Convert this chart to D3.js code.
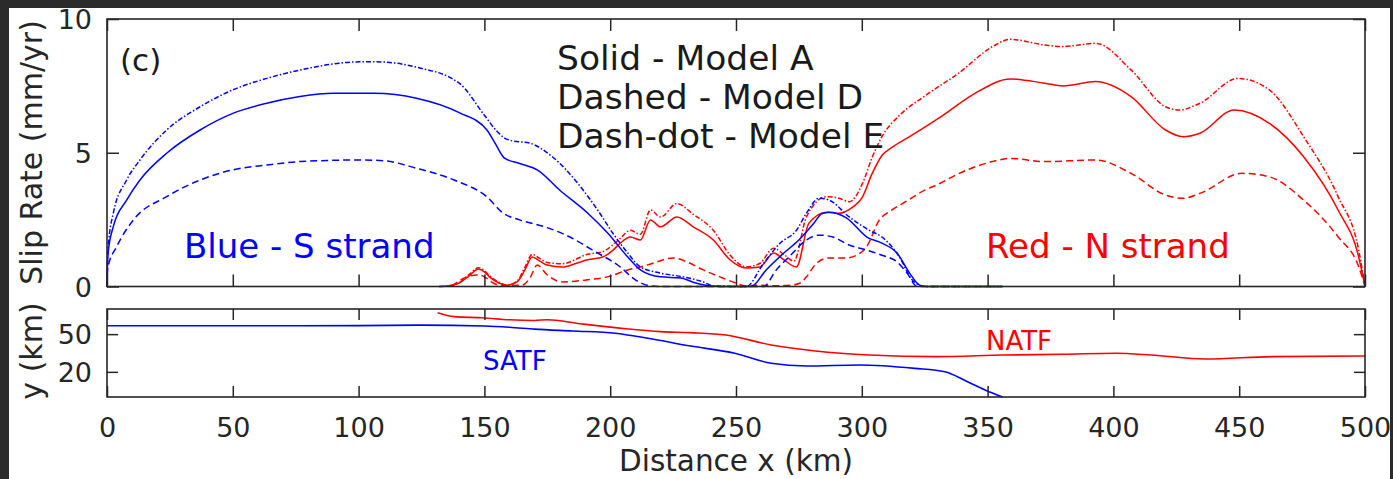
<!DOCTYPE html>
<html>
<head>
<meta charset="utf-8">
<script src="https://cdn.jsdelivr.net/npm/d3@7"></script>
<style>
  html, body { margin: 0; padding: 0; background: #2b2b2b; }
  svg { display: block; }
  text { font-family: "DejaVu Sans", sans-serif; }
</style>
</head>
<body>
<svg id="fig" width="1393" height="479"></svg>
<script>
// ---- data: slip rate (mm/yr) along the strike distance x (km) ----
// S strand (blue)
const sStrandModelA = [[0,0],[0.2,0.8],[0.5,1.3],[2.5,2.24],[7.8,3.23],[13.1,3.98],[23.7,4.98],[37,5.85],[50,6.47],[63.5,6.85],[76.7,7.1],[90,7.22],[106,7.22],[123,7.04],[140,6.5],[151,5.85],[154,5.4],[158,4.8],[164,4.6],[171,4.36],[180,3.6],[191,2.75],[199,2.0],[207,1.1],[212,0.62],[220,0.36],[228,0.32],[234,0.13],[240,0.02],[248,0],[256,0],[262,0.62],[269,1.25],[275,1.74],[281,2.37],[284,2.72],[287,2.78],[294,2.56],[302,1.85],[308,1.62],[314,1.25],[319,0.5],[323,0.05],[326,0],[356,0]];
const sStrandModelD = [[0,0],[0.3,0.7],[3.85,1.49],[10.5,2.49],[23.7,3.36],[37,3.98],[50,4.36],[63.5,4.54],[76.7,4.67],[100,4.73],[110,4.7],[123,4.42],[138,3.98],[151,3.35],[157.5,2.74],[164,2.49],[175,2.2],[184,1.85],[193,1.36],[204,0.73],[210,0.25],[216,0.02],[220,0],[261,0],[266,0.62],[271,1.1],[278,1.74],[283,1.92],[288.5,1.85],[295,1.55],[302,1.36],[308,1.17],[314,0.92],[318,0.5],[322,0],[356,0]];
const sStrandModelE = [[0,0],[0.2,0.9],[0.5,1.5],[2.5,2.74],[7.8,3.98],[13.1,4.73],[23.7,5.85],[37,6.72],[50,7.35],[63.5,7.78],[76.7,8.09],[90,8.32],[100.6,8.4],[107,8.4],[123,8.2],[140,7.6],[150,6.4],[155,5.8],[158,5.55],[161,5.45],[168,5.36],[177,4.85],[187,3.87],[195,2.86],[201,2.0],[207,1.25],[212,0.73],[220,0.5],[229,0.36],[237,0.17],[241,0.02],[254,0],[261,0.87],[267.5,1.62],[274,2.1],[278,2.74],[283,3.3],[287,3.23],[295,2.6],[303,2.1],[308,1.85],[315,1.1],[320,0.25],[325,0],[356,0]];
// N strand (red)
const nStrandModelA = [[132,0],[137,0.05],[140,0.13],[144,0.4],[147.6,0.65],[150,0.55],[152,0.36],[156,0.12],[159,0.05],[163,0.17],[166,0.6],[169,1.1],[172,0.95],[175,0.8],[181,0.73],[186,0.85],[191,1.0],[197,1.1],[201,1.35],[204,1.62],[208,1.85],[212,1.74],[216,2.49],[220,2.23],[226.5,2.6],[233,2.23],[241,1.74],[247.6,1.0],[254,0.69],[259.5,0.73],[265,1.25],[269,1.0],[274,0.73],[279,2.37],[286,2.78],[291,2.74],[296.5,2.98],[300,3.3],[304,4.2],[308,4.9],[312,5.2],[319,5.6],[331.5,6.35],[345,7.22],[359,7.76],[372.7,7.6],[380,7.5],[393,7.66],[407,7.1],[420.7,5.85],[427.6,5.6],[434.4,5.73],[448,6.6],[462,6.1],[475.6,4.85],[489.3,2.86],[497.5,1.1],[500,0]];
const nStrandModelD = [[137,0],[143,0.36],[148,0.43],[151,0.3],[153.5,0.13],[157,0.03],[165,0.05],[168,0.3],[171,0.8],[175,0.43],[181,0.17],[191,0.25],[199,0.36],[207,0.62],[212,0.73],[217,0.87],[225,1.07],[230.5,0.92],[237,0.62],[243.6,0.36],[250,0.13],[254,0.02],[258,0.05],[266,0.03],[272,0.05],[275.5,0.13],[278,0.36],[282,0.87],[287,1.07],[294,1.07],[298,1.17],[302,1.5],[307,2.49],[311,2.8],[318,3.2],[325,3.6],[331,3.85],[338,4.2],[352,4.67],[359,4.79],[372.7,4.67],[393,4.73],[407,4.23],[420.7,3.42],[427.6,3.3],[434.4,3.48],[451,4.23],[462,4.1],[475.6,3.23],[489.3,1.86],[497.5,0.74],[500,0]];
const nStrandModelE = [[132,0],[137,0.05],[140,0.15],[144,0.45],[147.6,0.7],[150,0.6],[152,0.4],[156,0.15],[159,0.05],[163,0.2],[166,0.7],[169,1.2],[172,1.05],[175,0.9],[181,0.85],[186,1.0],[190,1.18],[197,1.3],[201,1.55],[204,1.8],[208,2.1],[212,1.95],[216,2.86],[220,2.6],[226.5,3.1],[233,2.7],[241,2.1],[247.6,1.18],[254,0.73],[259.5,0.87],[265,1.43],[269,1.2],[273,0.95],[278,2.6],[286,3.36],[291,3.3],[295,3.17],[300.5,3.9],[304,4.8],[308,5.6],[315,6.4],[324.7,7.1],[338.4,7.97],[352,8.97],[359,9.24],[372.7,9.03],[379.6,8.97],[393,9.09],[407,8.1],[420.7,6.72],[426,6.6],[434.4,6.85],[449.5,7.78],[462,7.35],[475.6,5.6],[489.3,3.36],[497.5,1.36],[500,0]];

// ---- data: fault traces, y (km) against x (km) ----
const satfTrace = [[0,56.7],[50,56.7],[100,56.8],[125,57.2],[150,56.5],[160,55.5],[170,54],[185,52.5],[202,50.7],[215,46.7],[232,40.5],[249.5,34.8],[264,26.8],[278,24.7],[299,25.5],[321,22.8],[333,20.1],[342,12.2],[349,5.6],[356,0]];
const natfTrace = [[131.4,67],[138,63.9],[149,63],[160,61.4],[170,60.9],[175,61.5],[188,58.3],[206,54.3],[220,52],[232,51.2],[246,49.3],[264,41.4],[281.6,36.6],[303,33.4],[329.5,32.1],[356.5,33.4],[380,34],[401,34.8],[415,33.4],[436.6,30.2],[463,32.1],[499,32.6],[500,32.6]];

// ---- tick values and labels ----
const distanceTicks = [0, 50, 100, 150, 200, 250, 300, 350, 400, 450, 500];
const slipTicks = [0, 5, 10];
const traceTicks = [20, 50];
const legendLines = ["Solid - Model A", "Dashed - Model D", "Dash-dot - Model E"];

// ---- drawing ----
const svg = d3.select("#fig");
const AXIS = "#262626";
const BLUE = "#0000ff";
const RED = "#ff0000";

svg.append("rect").attr("x", 9).attr("y", 8).attr("width", 1381).attr("height", 471).attr("fill", "#ffffff");

const x = d3.scaleLinear().domain([0, 500]).range([107, 1365]);
const ySlip = d3.scaleLinear().domain([0, 10]).range([286.5, 19]);
const yTrace = d3.scaleLinear().domain([0, 70]).range([397, 309]);

const lineSlip = d3.line().x(d => x(d[0])).y(d => ySlip(d[1])).curve(d3.curveMonotoneX);
const lineTrace = d3.line().x(d => x(d[0])).y(d => yTrace(d[1])).curve(d3.curveMonotoneX);

const styles = { solid: null, dashed: "7,4", dashdot: "5,2,1.5,2" };

const slipSeries = [
  { data: nStrandModelD, color: RED, dash: styles.dashed },
  { data: nStrandModelE, color: RED, dash: styles.dashdot },
  { data: nStrandModelA, color: RED, dash: styles.solid },
  { data: sStrandModelD, color: BLUE, dash: styles.dashed },
  { data: sStrandModelE, color: BLUE, dash: styles.dashdot },
  { data: sStrandModelA, color: BLUE, dash: styles.solid }
];

const slipLayer = svg.append("g");
slipLayer.selectAll("path.slip").data(slipSeries).join("path")
  .attr("class", "slip")
  .attr("d", d => lineSlip(d.data))
  .attr("fill", "none")
  .attr("stroke", d => d.color)
  .attr("stroke-width", 1.5)
  .attr("stroke-dasharray", d => d.dash);

const traceLayer = svg.append("g");
traceLayer.selectAll("path.trace").data([
  { data: satfTrace, color: BLUE },
  { data: natfTrace, color: RED }
]).join("path")
  .attr("class", "trace")
  .attr("d", d => lineTrace(d.data))
  .attr("fill", "none")
  .attr("stroke", d => d.color)
  .attr("stroke-width", 1.6);

function styleAxis(g) {
  g.select(".domain").remove();
  g.selectAll(".tick line").attr("stroke", AXIS).attr("stroke-width", 1.5);
  g.selectAll(".tick text").attr("fill", AXIS).style("font-family", "DejaVu Sans");
}

function frame(yScale, yTicks, tickLen, xLabels) {
  const [y0, y1] = yScale.range();
  const gB = svg.append("g").attr("transform", `translate(0,${y0})`)
    .call(d3.axisBottom(x).tickValues(distanceTicks).tickSize(-tickLen).tickPadding(0)
      .tickFormat(xLabels ? d3.format("d") : ""));
  styleAxis(gB);
  if (xLabels) gB.selectAll(".tick text").attr("dy", null).attr("y", 40).style("font-size", "27px");
  const gT = svg.append("g").attr("transform", `translate(0,${y1})`)
    .call(d3.axisTop(x).tickValues(distanceTicks).tickSize(-tickLen).tickFormat(""));
  styleAxis(gT);
  const gL = svg.append("g").attr("transform", `translate(${x(0)},0)`)
    .call(d3.axisLeft(yScale).tickValues(yTicks).tickSize(-tickLen).tickPadding(15).tickFormat(d3.format("d")));
  styleAxis(gL);
  gL.selectAll(".tick text").style("font-size", "27px").attr("dy", "0.36em");
  const gR = svg.append("g").attr("transform", `translate(${x(500)},0)`)
    .call(d3.axisRight(yScale).tickValues(yTicks).tickSize(-tickLen).tickFormat(""));
  styleAxis(gR);
  svg.append("rect")
    .attr("x", x(0)).attr("y", y1)
    .attr("width", x(500) - x(0)).attr("height", y0 - y1)
    .attr("fill", "none").attr("stroke", AXIS).attr("stroke-width", 1.6);
}

frame(ySlip, slipTicks, 12, false);
frame(yTrace, traceTicks, 11, true);

// axis titles
svg.append("text").attr("transform", "translate(42,152.5) rotate(-90)")
  .attr("text-anchor", "middle").attr("fill", AXIS).style("font-size", "30px")
  .text("Slip Rate (mm/yr)");
svg.append("text").attr("transform", "translate(42,351) rotate(-90)")
  .attr("text-anchor", "middle").attr("fill", AXIS).style("font-size", "30px")
  .text("y (km)");
svg.append("text").attr("x", (x(0) + x(500)) / 2).attr("y", 471)
  .attr("text-anchor", "middle").attr("fill", AXIS).style("font-size", "29.5px")
  .text("Distance x (km)");

// panel annotations
svg.append("text").attr("x", 120).attr("y", 71).attr("fill", "#1a1a1a").style("font-size", "31px").text("(c)");
svg.selectAll("text.legend").data(legendLines).join("text")
  .attr("class", "legend")
  .attr("x", 557).attr("y", (d, i) => 70 + i * 39)
  .attr("fill", "#1a1a1a").style("font-size", "34.5px")
  .text(d => d);
svg.append("text").attr("x", 184).attr("y", 258).attr("fill", BLUE).style("font-size", "34px").text("Blue - S strand");
svg.append("text").attr("x", 986).attr("y", 258).attr("fill", RED).style("font-size", "34px").text("Red - N strand");
svg.append("text").attr("x", 483).attr("y", 370).attr("fill", BLUE).style("font-size", "26px").text("SATF");
svg.append("text").attr("x", 986).attr("y", 350).attr("fill", RED).style("font-size", "26px").text("NATF");
</script>
</body>
</html>
